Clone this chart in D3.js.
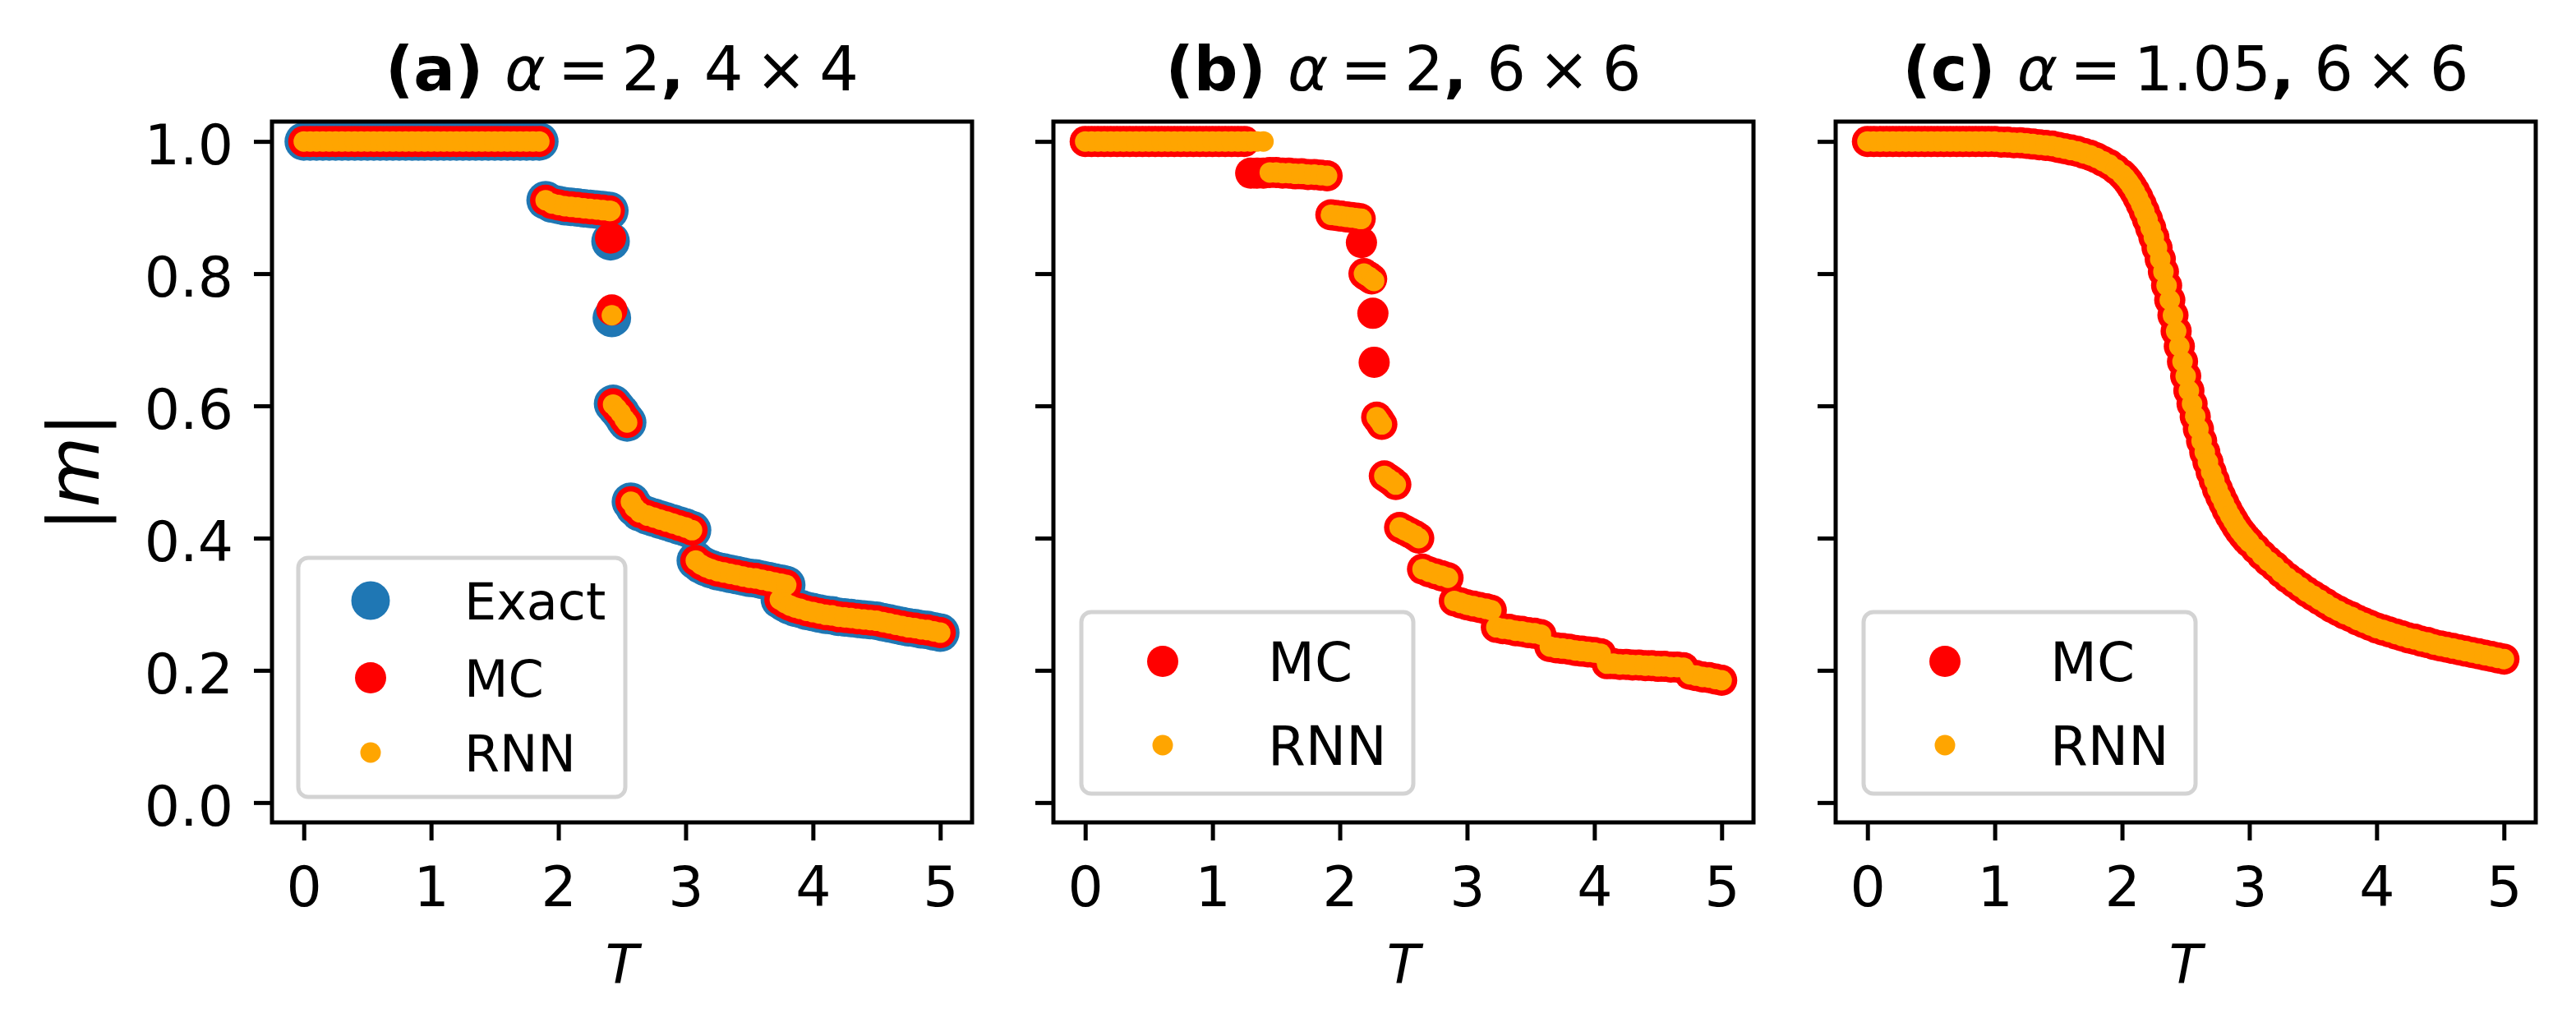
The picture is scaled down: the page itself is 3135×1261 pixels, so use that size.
<!DOCTYPE html>
<html lang="en">

<head>
    <meta charset="UTF-8">
    <title>|m| versus T: Exact, MC and RNN</title>
    <script src="https://d3js.org/d3.v7.min.js"></script>
    <style>
        body {
            margin: 0;
            background: #ffffff;
        }

        svg {
            display: block;
            font-family: "DejaVu Sans", sans-serif;
        }
    </style>
</head>

<body>

    <script>
        // ---- values ----

        // Panel (a): alpha = 2, 4 x 4
        var tA = [
            0, 0.05, 0.1, 0.15, 0.2, 0.25, 0.3, 0.35, 0.4, 0.45, 0.5, 0.55, 0.6, 0.65, 0.7, 0.75, 0.8, 0.85, 0.9, 0.95,
            1, 1.05, 1.1, 1.15, 1.2, 1.25, 1.3, 1.35, 1.4, 1.45, 1.5, 1.55, 1.6, 1.65, 1.7, 1.75, 1.8, 1.85,
            1.9, 1.95, 2, 2.05, 2.1, 2.15, 2.2, 2.25, 2.3, 2.35, 2.4,
            2.41, 2.42,
            2.43, 2.46, 2.49, 2.52, 2.54,
            2.57, 2.6, 2.64, 2.7, 2.75, 2.8, 2.85, 2.9, 2.95, 3, 3.05,
            3.08, 3.12, 3.16, 3.2, 3.25, 3.3, 3.35, 3.4, 3.45, 3.5, 3.55, 3.6, 3.65, 3.7, 3.75, 3.79,
            3.74, 3.78, 3.82, 3.86, 3.9, 3.95, 4, 4.05, 4.1, 4.15, 4.2, 4.25, 4.3, 4.35, 4.4, 4.45, 4.5, 4.55, 4.6, 4.65, 4.7, 4.75, 4.8, 4.85, 4.9, 4.95, 5
        ];
        var exactA = [
            1, 1, 1, 1, 1, 1, 1, 1, 1, 1, 1, 1, 1, 1, 1, 1, 1, 1, 1, 1,
            1, 1, 1, 1, 1, 1, 1, 1, 1, 1, 1, 1, 1, 1, 1, 1, 1, 1,
            0.911, 0.906, 0.904, 0.902, 0.901, 0.9, 0.899, 0.898, 0.897, 0.896, 0.895,
            0.849, 0.733,
            0.603, 0.596, 0.589, 0.58, 0.575,
            0.455, 0.446, 0.439, 0.434, 0.431, 0.428, 0.425, 0.422, 0.419, 0.416, 0.412,
            0.366, 0.36, 0.356, 0.353, 0.35, 0.348, 0.346, 0.344, 0.342, 0.34, 0.339, 0.337, 0.335, 0.333, 0.331, 0.329,
            0.307, 0.302, 0.298, 0.295, 0.293, 0.29, 0.288, 0.286, 0.284, 0.283, 0.281, 0.28, 0.279, 0.278, 0.277, 0.276, 0.275, 0.273, 0.271, 0.269, 0.267, 0.265, 0.264, 0.262, 0.261, 0.259, 0.257
        ];
        var mcA = [
            1, 1, 1, 1, 1, 1, 1, 1, 1, 1, 1, 1, 1, 1, 1, 1, 1, 1, 1, 1,
            1, 1, 1, 1, 1, 1, 1, 1, 1, 1, 1, 1, 1, 1, 1, 1, 1, 1,
            0.911, 0.906, 0.904, 0.902, 0.901, 0.9, 0.899, 0.898, 0.897, 0.896, 0.895,
            0.854, 0.745,
            0.603, 0.596, 0.589, 0.58, 0.575,
            0.455, 0.446, 0.439, 0.434, 0.431, 0.428, 0.425, 0.422, 0.419, 0.416, 0.412,
            0.366, 0.36, 0.356, 0.353, 0.35, 0.348, 0.346, 0.344, 0.342, 0.34, 0.339, 0.337, 0.335, 0.333, 0.331, 0.329,
            0.307, 0.302, 0.298, 0.295, 0.293, 0.29, 0.288, 0.286, 0.284, 0.283, 0.281, 0.28, 0.279, 0.278, 0.277, 0.276, 0.275, 0.273, 0.271, 0.269, 0.267, 0.265, 0.264, 0.262, 0.261, 0.259, 0.257
        ];
        var rnnA = [
            1, 1, 1, 1, 1, 1, 1, 1, 1, 1, 1, 1, 1, 1, 1, 1, 1, 1, 1, 1,
            1, 1, 1, 1, 1, 1, 1, 1, 1, 1, 1, 1, 1, 1, 1, 1, 1, 1,
            0.911, 0.906, 0.904, 0.902, 0.901, 0.9, 0.899, 0.898, 0.897, 0.896, 0.895,
            0.895, 0.737,
            0.602, 0.596, 0.589, 0.58, 0.575,
            0.455, 0.446, 0.439, 0.434, 0.431, 0.428, 0.425, 0.422, 0.419, 0.416, 0.412,
            0.366, 0.36, 0.356, 0.353, 0.35, 0.348, 0.346, 0.344, 0.342, 0.34, 0.339, 0.337, 0.335, 0.333, 0.331, 0.329,
            0.307, 0.302, 0.298, 0.295, 0.293, 0.29, 0.288, 0.286, 0.284, 0.283, 0.281, 0.28, 0.279, 0.278, 0.277, 0.276, 0.275, 0.273, 0.271, 0.269, 0.267, 0.265, 0.264, 0.262, 0.261, 0.259, 0.257
        ];

        // Panel (b): alpha = 2, 6 x 6
        var tB = [
            0, 0.05, 0.1, 0.15, 0.2, 0.25, 0.3, 0.35, 0.4, 0.45, 0.5, 0.55, 0.6, 0.65, 0.7, 0.75, 0.8, 0.85, 0.9, 0.95,
            1, 1.05, 1.1, 1.15, 1.2, 1.25,
            1.3, 1.35, 1.4,
            1.45, 1.5, 1.55, 1.6, 1.65, 1.7, 1.75, 1.8, 1.85, 1.9,
            1.93, 1.97, 2.01, 2.05, 2.09, 2.13, 2.16,
            2.17,
            2.19, 2.21, 2.23, 2.25,
            2.26, 2.27,
            2.29, 2.31, 2.33,
            2.35, 2.38, 2.41, 2.44,
            2.47, 2.51, 2.55, 2.59, 2.62,
            2.65, 2.7, 2.75, 2.8, 2.85,
            2.9, 2.95, 3, 3.05, 3.1, 3.15, 3.19,
            3.23, 3.28, 3.33, 3.38, 3.43, 3.48, 3.53, 3.58,
            3.65, 3.7, 3.75, 3.8, 3.85, 3.9, 3.95, 4, 4.05,
            4.1, 4.15, 4.2, 4.25, 4.3, 4.35, 4.4, 4.45, 4.5, 4.55, 4.6, 4.65, 4.7,
            4.75, 4.8, 4.85, 4.9, 4.95, 5
        ];
        var mcB = [
            1, 1, 1, 1, 1, 1, 1, 1, 1, 1, 1, 1, 1, 1, 1, 1, 1, 1, 1, 1,
            1, 1, 1, 1, 1, 1,
            0.952, 0.952, 0.952,
            0.953, 0.953, 0.952, 0.952, 0.951, 0.951, 0.95, 0.95, 0.949, 0.948,
            0.889, 0.888, 0.887, 0.886, 0.885, 0.884, 0.883,
            0.847,
            0.8, 0.797, 0.795, 0.792,
            0.74, 0.666,
            0.583, 0.578, 0.572,
            0.494, 0.49, 0.486, 0.481,
            0.416, 0.412, 0.408, 0.404, 0.4,
            0.353, 0.349, 0.346, 0.343, 0.34,
            0.305, 0.302, 0.299, 0.297, 0.295, 0.293, 0.291,
            0.265, 0.263, 0.262, 0.26, 0.259, 0.257, 0.256, 0.254,
            0.236, 0.234, 0.233, 0.232, 0.23, 0.229, 0.228, 0.227, 0.225,
            0.21, 0.21, 0.209, 0.209, 0.208, 0.208, 0.207, 0.207, 0.206, 0.206, 0.205, 0.205, 0.204,
            0.194, 0.192, 0.19, 0.189, 0.187, 0.185
        ];
        var rnnB = [
            1, 1, 1, 1, 1, 1, 1, 1, 1, 1, 1, 1, 1, 1, 1, 1, 1, 1, 1, 1,
            1, 1, 1, 1, 1, 1,
            1, 1, 1,
            0.953, 0.953, 0.952, 0.952, 0.951, 0.951, 0.95, 0.95, 0.949, 0.948,
            0.889, 0.888, 0.887, 0.886, 0.885, 0.884, 0.883,
            0.883,
            0.8, 0.797, 0.795, 0.792,
            0.79, 0.789,
            0.583, 0.578, 0.572,
            0.494, 0.49, 0.486, 0.481,
            0.416, 0.412, 0.408, 0.404, 0.4,
            0.353, 0.349, 0.346, 0.343, 0.34,
            0.305, 0.302, 0.299, 0.297, 0.295, 0.293, 0.291,
            0.265, 0.263, 0.262, 0.26, 0.259, 0.257, 0.256, 0.254,
            0.236, 0.234, 0.233, 0.232, 0.23, 0.229, 0.228, 0.227, 0.225,
            0.21, 0.21, 0.209, 0.209, 0.208, 0.208, 0.207, 0.207, 0.206, 0.206, 0.205, 0.205, 0.204,
            0.194, 0.192, 0.19, 0.189, 0.187, 0.185
        ];

        // Panel (c): alpha = 1.05, 6 x 6
        var tC = [
            0, 0.05, 0.1, 0.15, 0.2, 0.25, 0.3, 0.35, 0.4, 0.45, 0.5, 0.55, 0.6, 0.65, 0.7, 0.75, 0.8, 0.85, 0.9, 0.95,
            1, 1.05, 1.1, 1.15, 1.2, 1.25, 1.3, 1.35, 1.4, 1.45, 1.5, 1.55, 1.6, 1.65, 1.7, 1.75, 1.8, 1.85, 1.9, 1.95,
            2, 2.025, 2.05, 2.075, 2.1, 2.125, 2.15, 2.175, 2.2, 2.225, 2.25, 2.275, 2.3, 2.325, 2.35, 2.375, 2.4, 2.425, 2.45, 2.475,
            2.5, 2.525, 2.55, 2.575, 2.6, 2.625, 2.65, 2.675, 2.7, 2.725, 2.75, 2.775, 2.8, 2.825, 2.85, 2.875, 2.9, 2.925, 2.95, 2.975,
            3, 3.05, 3.1, 3.15, 3.2, 3.25, 3.3, 3.35, 3.4, 3.45, 3.5, 3.55, 3.6, 3.65, 3.7, 3.75, 3.8, 3.85, 3.9, 3.95,
            4, 4.05, 4.1, 4.15, 4.2, 4.25, 4.3, 4.35, 4.4, 4.45, 4.5, 4.55, 4.6, 4.65, 4.7, 4.75, 4.8, 4.85, 4.9, 4.95, 5
        ];
        var mcC = [
            1, 1, 1, 1, 1, 1, 1, 1, 1, 1, 1, 1, 1, 1, 1, 1, 1, 1, 1, 1,
            1, 0.999, 0.999, 0.998, 0.998, 0.997, 0.996, 0.995, 0.994, 0.993, 0.991, 0.989, 0.987, 0.985, 0.982, 0.979, 0.975, 0.97, 0.965, 0.958,
            0.95, 0.945, 0.939, 0.932, 0.924, 0.915, 0.905, 0.894, 0.882, 0.869, 0.855, 0.839, 0.822, 0.803, 0.782, 0.76, 0.737, 0.713, 0.69, 0.667,
            0.645, 0.623, 0.603, 0.584, 0.565, 0.547, 0.53, 0.515, 0.5, 0.487, 0.474, 0.463, 0.453, 0.443, 0.434, 0.426, 0.418, 0.411, 0.405, 0.399,
            0.394, 0.384, 0.374, 0.365, 0.357, 0.348, 0.34, 0.333, 0.326, 0.319, 0.313, 0.307, 0.301, 0.295, 0.29, 0.285, 0.281, 0.276, 0.272, 0.268,
            0.264, 0.261, 0.258, 0.255, 0.252, 0.249, 0.247, 0.244, 0.242, 0.239, 0.237, 0.235, 0.233, 0.231, 0.229, 0.227, 0.225, 0.223, 0.221, 0.219, 0.217
        ];
        var rnnC = [
            1, 1, 1, 1, 1, 1, 1, 1, 1, 1, 1, 1, 1, 1, 1, 1, 1, 1, 1, 1,
            1, 0.999, 0.999, 0.998, 0.998, 0.997, 0.996, 0.995, 0.994, 0.993, 0.991, 0.989, 0.987, 0.985, 0.982, 0.979, 0.975, 0.97, 0.965, 0.958,
            0.95, 0.945, 0.939, 0.932, 0.924, 0.915, 0.905, 0.894, 0.882, 0.869, 0.855, 0.839, 0.822, 0.803, 0.782, 0.76, 0.737, 0.713, 0.69, 0.667,
            0.645, 0.623, 0.603, 0.584, 0.565, 0.547, 0.53, 0.515, 0.5, 0.487, 0.474, 0.463, 0.453, 0.443, 0.434, 0.426, 0.418, 0.411, 0.405, 0.399,
            0.394, 0.384, 0.374, 0.365, 0.357, 0.348, 0.34, 0.333, 0.326, 0.319, 0.313, 0.307, 0.301, 0.295, 0.29, 0.285, 0.281, 0.276, 0.272, 0.268,
            0.264, 0.261, 0.258, 0.255, 0.252, 0.249, 0.247, 0.244, 0.242, 0.239, 0.237, 0.235, 0.233, 0.231, 0.229, 0.227, 0.225, 0.223, 0.221, 0.219, 0.217
        ];

        // Titles, ticks
        var panelLabels = ["(a)", "(b)", "(c)"];
        var alphaValues = ["2", "2", "1.05"];
        var latticeSizes = ["4\u2009\u00d7\u20094", "6\u2009\u00d7\u20096", "6\u2009\u00d7\u20096"];
        var xTicks = [0, 1, 2, 3, 4, 5];
        var yTicks = [0, 0.2, 0.4, 0.6, 0.8, 1.0];

        // ---- layout ----
        var W = 3135, H = 1261;
        var axTop = 148, axBottom = 1001;
        var axW = 852, axH = axBottom - axTop;
        var axLefts = [331, 1282, 2234];
        var tickLen = 22, lineW = 5;

        var EXACT = { name: "Exact", color: "#1f77b4", r: 23.5 };
        var MC = { name: "MC", color: "#ff0000", r: 19 };
        var RNN = { name: "RNN", color: "#ffa500", r: 12.5 };

        var panels = [
            {
                t: tA,
                series: [
                    Object.assign({ m: exactA }, EXACT),
                    Object.assign({ m: mcA }, MC),
                    Object.assign({ m: rnnA }, RNN)
                ],
                legend: { x: 32, y: 679, w: 398, h: 291, font: 62, mx: 88, tx: 202, rows: [52, 146, 237] }
            },
            {
                t: tB,
                series: [Object.assign({ m: mcB }, MC), Object.assign({ m: rnnB }, RNN)],
                legend: { x: 34, y: 745, w: 404, h: 221, font: 66, mx: 99, tx: 227, rows: [60, 162] }
            },
            {
                t: tC,
                series: [Object.assign({ m: mcC }, MC), Object.assign({ m: rnnC }, RNN)],
                legend: { x: 34, y: 745, w: 404, h: 221, font: 66, mx: 99, tx: 227, rows: [60, 162] }
            }
        ];

        var svg = d3.select("body")
            .append("svg")
            .attr("width", W)
            .attr("height", H);

        svg.append("rect")
            .attr("width", W)
            .attr("height", H)
            .attr("fill", "#ffffff");

        var x = d3.scaleLinear().domain([-0.25, 5.25]).range([0, axW]);
        var y = d3.scaleLinear().domain([-0.03, 1.03]).range([axH, 0]);

        panels.forEach(function (p, i) {
            var g = svg.append("g")
                .attr("transform", "translate(" + axLefts[i] + "," + axTop + ")");

            // clip the markers to the axes box
            g.append("clipPath")
                .attr("id", "clip" + i)
                .append("rect")
                .attr("width", axW)
                .attr("height", axH);

            var plot = g.append("g").attr("clip-path", "url(#clip" + i + ")");

            // scatter series, drawn back to front
            p.series.forEach(function (s) {
                plot.append("g")
                    .selectAll("circle")
                    .data(p.t)
                    .enter().append("circle")
                    .attr("cx", function (d) { return x(d); })
                    .attr("cy", function (d, j) { return y(s.m[j]); })
                    .attr("r", s.r)
                    .attr("fill", s.color);
            });

            // X axis
            var xAxis = g.append("g")
                .attr("transform", "translate(0," + axH + ")")
                .call(d3.axisBottom(x).tickValues(xTicks).tickSize(tickLen).tickFormat(d3.format("d")));
            xAxis.select(".domain").remove();
            xAxis.attr("font-family", "DejaVu Sans").attr("font-size", 68);
            xAxis.selectAll(".tick line").attr("stroke", "#000").attr("stroke-width", lineW);
            xAxis.selectAll(".tick text")
                .attr("fill", "#000")
                .attr("y", 102)
                .attr("dy", null);

            // Y axis (labels only on the first panel)
            var yAxis = g.append("g")
                .call(d3.axisLeft(y).tickValues(yTicks).tickSize(tickLen)
                    .tickFormat(i === 0 ? d3.format(".1f") : function () { return ""; }));
            yAxis.select(".domain").remove();
            yAxis.attr("font-family", "DejaVu Sans").attr("font-size", 68);
            yAxis.selectAll(".tick line").attr("stroke", "#000").attr("stroke-width", lineW);
            yAxis.selectAll(".tick text")
                .attr("fill", "#000")
                .attr("x", -47)
                .attr("dy", "0.4em");

            // Spines
            g.append("rect")
                .attr("width", axW)
                .attr("height", axH)
                .attr("fill", "none")
                .attr("stroke", "#000")
                .attr("stroke-width", lineW);

            // Title
            var title = g.append("text")
                .attr("x", axW / 2)
                .attr("y", 110 - axTop)
                .attr("text-anchor", "middle")
                .attr("font-size", 75)
                .attr("fill", "#000");
            title.append("tspan").attr("font-weight", "bold").text(panelLabels[i] + " ");
            title.append("tspan").attr("font-style", "italic").text("\u03b1");
            title.append("tspan").text("\u2009=\u2009" + alphaValues[i]);
            title.append("tspan").attr("font-weight", "bold").text(",");
            title.append("tspan").text(" " + latticeSizes[i]);

            // X label
            g.append("text")
                .attr("x", axW / 2)
                .attr("y", 1197 - axTop)
                .attr("text-anchor", "middle")
                .attr("font-size", 66)
                .attr("font-style", "italic")
                .attr("fill", "#000")
                .text("T");

            // Y label on the first panel
            if (i === 0) {
                var yl = g.append("text")
                    .attr("transform", "translate(" + (120 - axLefts[0]) + "," + (axH / 2) + ") rotate(-90)")
                    .attr("text-anchor", "middle")
                    .attr("font-size", 88)
                    .attr("fill", "#000");
                yl.append("tspan").text("|");
                yl.append("tspan").attr("font-style", "italic").text("m");
                yl.append("tspan").text("|");
            }

            // Legend
            var L = p.legend;
            var lg = g.append("g")
                .attr("transform", "translate(" + L.x + "," + (L.y - axTop) + ")");

            lg.append("rect")
                .attr("width", L.w)
                .attr("height", L.h)
                .attr("rx", 12)
                .attr("ry", 12)
                .attr("fill", "#ffffff")
                .attr("fill-opacity", 0.8)
                .attr("stroke", "#d3d3d3")
                .attr("stroke-width", lineW);

            var item = lg.selectAll(".legend-item")
                .data(p.series)
                .enter().append("g")
                .attr("class", "legend-item")
                .attr("transform", function (d, k) { return "translate(0," + L.rows[k] + ")"; });

            item.append("circle")
                .attr("cx", L.mx)
                .attr("r", function (d) { return d.r; })
                .attr("fill", function (d) { return d.color; });

            item.append("text")
                .attr("x", L.tx)
                .attr("dy", "0.365em")
                .attr("font-size", L.font)
                .attr("fill", "#000")
                .text(function (d) { return d.name; });
        });
    </script>

</body>

</html>
